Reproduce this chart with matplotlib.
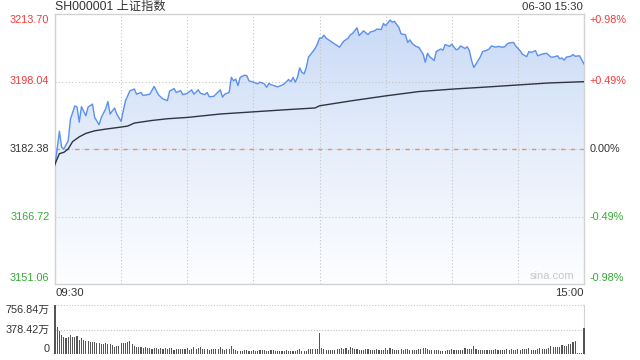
import numpy as np
import matplotlib.pyplot as plt
from matplotlib.colors import LinearSegmentedColormap

plt.rcParams['font.family'] = ['Liberation Sans', 'Noto Sans CJK SC']

# intraday index, minute index from 09:30 (0) to 15:00 (240)
price_min = [0, 2, 3, 4, 6, 7, 9, 10, 11, 12, 14, 15, 17, 18, 20, 21, 23, 24, 25, 27,
             28, 30, 31, 32, 34, 36, 37, 39, 40, 43, 45, 47, 49, 51, 52, 54, 55, 57, 58, 60,
             62, 63, 65, 66, 68, 69, 70, 72, 75, 76, 77, 79, 80, 81, 82, 83, 84, 86, 87, 88,
             90, 92, 93, 95, 96, 97, 98, 101, 103, 104, 106, 107, 108, 109, 110, 111, 112, 113,
             114, 115, 117, 118, 119, 120, 121,
             122, 123, 125, 127, 128, 129, 131, 133, 134, 135, 137, 138, 140, 142, 143, 145,
             146, 148, 149, 150, 152, 153, 154, 156, 157, 159, 160, 161, 162, 164, 165, 167,
             168, 169, 170, 172, 173, 175, 176, 177, 179, 180,
             182, 183, 184, 185, 186, 187, 188, 189, 190, 191, 193, 194, 196, 197, 198, 200,
             201, 203, 204, 205, 206, 208, 209, 211, 212, 214, 215, 216, 218, 219, 221, 223,
             225, 226, 228, 229, 230, 231, 232, 234, 235, 236, 238, 240]
price_val = [3178.51, 3186.5, 3182.8, 3182.38, 3184.3, 3189.3, 3192.4, 3192.1, 3188.6, 3192.2,
             3190.1, 3192.1, 3192.8, 3189.7, 3188.0, 3189.7, 3191.7, 3193.4, 3190.5, 3191.9,
             3190.5, 3188.8, 3191.3, 3193.6, 3195.9, 3196.3, 3195.1, 3195.5, 3194.8, 3195.1,
             3196.9, 3194.9, 3194.0, 3193.6, 3195.8, 3196.4, 3195.5, 3195.9, 3195.0, 3195.3,
             3196.1, 3195.1, 3196.1, 3195.3, 3195.0, 3195.5, 3194.5, 3194.6, 3196.1, 3194.4,
             3195.1, 3195.5, 3199.0, 3198.2, 3198.6, 3197.1, 3199.0, 3199.5, 3199.4, 3198.2,
             3197.9, 3197.5, 3197.9, 3197.5, 3196.7, 3197.6, 3197.3, 3196.8, 3197.2, 3197.5,
             3198.5, 3198.0, 3199.0, 3197.9, 3199.0, 3201.2, 3200.2, 3199.8,
             3201.3, 3203.7, 3205.0, 3205.7, 3206.7, 3208.1, 3208.1,
             3208.8, 3208.1, 3207.4, 3206.7, 3206.4, 3206.0, 3207.4, 3208.1, 3208.9, 3209.2,
             3210.5, 3208.7, 3209.8, 3208.9, 3209.5, 3209.8, 3210.2, 3210.1, 3211.5, 3211.0,
             3212.3, 3211.8, 3212.0, 3210.6, 3209.1, 3208.9, 3207.1, 3207.7, 3206.9, 3206.1,
             3206.0, 3204.4, 3202.5, 3204.6, 3203.8, 3202.9, 3205.0, 3205.6, 3205.3, 3206.6,
             3206.2, 3206.7,
             3205.4, 3205.6, 3206.3, 3206.0, 3205.7, 3206.1, 3205.2, 3202.9, 3201.3, 3202.1,
             3203.8, 3205.0, 3205.3, 3205.6, 3206.3, 3206.0, 3206.2, 3206.0, 3206.1, 3206.7,
             3207.0, 3207.1, 3206.3, 3205.2, 3204.4, 3203.8, 3205.0, 3204.8, 3205.2, 3204.0,
             3204.4, 3204.6, 3203.7, 3203.7, 3204.0, 3203.3, 3203.5, 3203.0, 3203.7, 3203.9,
             3204.3, 3203.9, 3204.0, 3202.1]

avg_min = [0, 2, 4, 6, 8, 11, 14, 18, 23, 29, 33, 36, 44, 51, 60, 75, 90, 105, 118, 120,
           135, 150, 165, 181, 194, 209, 224, 240]
avg_val = [3178.9, 3181.3, 3181.6, 3182.4, 3184.1, 3185.2, 3186.0, 3186.6, 3187.0, 3187.4,
           3187.7, 3188.4, 3189.0, 3189.4, 3189.7, 3190.5, 3191.0, 3191.5, 3191.9, 3192.4,
           3193.6, 3194.7, 3195.7, 3196.3, 3196.7, 3197.2, 3197.7, 3198.0]

# volume in 万, one bar per minute
volume = [756.84, 422, 360, 299, 268, 247, 268, 299, 268, 268,
          283, 216, 247, 216, 206, 201, 190, 185, 185, 175,
          175, 160, 160, 170, 160, 149, 144, 108, 124, 124,
          175, 165, 175, 190, 201, 160, 129, 108, 103, 103,
          88, 108, 93, 88, 77, 93, 93, 82, 93, 82,
          93, 82, 88, 88, 67, 77, 77, 77, 77, 72,
          93, 62, 77, 108, 82, 98, 108, 72, 72, 77,
          67, 77, 77, 82, 77, 108, 72, 67, 72, 72,
          124, 77, 62, 51, 51, 51, 62, 57, 51, 51,
          62, 51, 51, 62, 57, 62, 51, 51, 57, 62,
          51, 46, 51, 41, 46, 57, 51, 51, 51, 51,
          62, 82, 51, 51, 51, 77, 77, 72, 77, 82,
          330,
          88, 72, 67, 62, 62, 62, 62, 72, 82, 93,
          77, 93, 62, 108, 93, 77, 77, 67, 62, 62,
          77, 77, 67, 67, 62, 72, 67, 67, 67, 93,
          62, 88, 77, 67, 62, 67, 77, 67, 72, 82,
          67, 57, 67, 67, 72, 77, 88, 88, 72, 62,
          67, 67, 67, 67, 51, 51, 51, 57, 67, 77,
          62, 57, 62, 62, 62, 93, 72, 72, 77, 129,
          77, 67, 67, 67, 67, 62, 67, 62, 62, 72,
          62, 62, 62, 62, 72, 67, 77, 62, 62, 82,
          62, 77, 77, 77, 88, 67, 67, 62, 77, 88,
          77, 77, 77, 93, 118, 108, 108, 108, 108, 139,
          124, 124, 154, 154, 185, 201, 10, 10, 10, 396]

price_ticks = [3213.70, 3198.04, 3182.38, 3166.72, 3151.06]
pct_labels = ['+0.98%', '+0.49%', '0.00%', '-0.49%', '-0.98%']
prev_close = 3182.38

red = '#f23b3b'
green = '#34a934'
dark = '#333333'
border = '#d2d2d2'

fig = plt.figure(figsize=(6.4, 3.6), dpi=100)
ax = fig.add_axes([55 / 640, 76 / 360, 529 / 640, 270 / 360])
axv = fig.add_axes([55 / 640, 6 / 360, 529 / 640, 49 / 360])

lo, hi = price_ticks[-1], price_ticks[0]
ax.set_xlim(0, 240)
ax.set_ylim(lo, hi)

# gradient fill under the price line
poly = ax.fill_between(price_min, price_val, lo, color='none', lw=0)
cmap = LinearSegmentedColormap.from_list('fill', ['#fdfeff', '#e6eefb', '#c8d9f6'])
grad = np.linspace(0, 1, 256).reshape(-1, 1)
im = ax.imshow(grad, extent=[0, 240, lo, hi], origin='lower', aspect='auto',
               cmap=cmap, zorder=1)
im.set_clip_path(poly.get_paths()[0], transform=ax.transData)

for m in [30, 60, 90, 120, 150, 180, 210]:
    ax.axvline(m, color='#c4c4c4', lw=0.8, ls=(0, (1, 2)), zorder=2)
for v in [price_ticks[1], price_ticks[3]]:
    ax.axhline(v, color='#c4c4c4', lw=0.8, ls=(0, (1, 2)), zorder=2)
ax.axhline(prev_close, color='#c4c4c4', lw=0.8, ls=(0, (1, 2)), zorder=2)
ax.axhline(prev_close, color='#e8906a', lw=1.0, ls=(0, (3, 4)), zorder=2)

ax.plot(price_min, price_val, color='#5b90ee', lw=1.0, zorder=4)
ax.plot(avg_min, avg_val, color='#2f3540', lw=1.0, zorder=4)

ax.set_xticks([])
ax.set_yticks([])
for s in ax.spines.values():
    s.set_color(border)
    s.set_linewidth(1)

# left / right labels
left_colors = [red, red, dark, green, green]
right_colors = [red, red, dark, green, green]
for i, (v, p) in enumerate(zip(price_ticks, pct_labels)):
    va = 'top' if i == 0 else ('bottom' if i == 4 else 'center')
    off = -1 if i == 0 else (1 if i == 4 else 0)
    ax.annotate(f'{v:.2f}', xy=(0, v), xycoords=('axes fraction', 'data'),
                xytext=(-4, off), textcoords='offset points', ha='right', va=va,
                fontsize=7.8, color=left_colors[i])
    ax.annotate(p, xy=(1, v), xycoords=('axes fraction', 'data'),
                xytext=(4, off), textcoords='offset points', ha='left', va=va,
                fontsize=7.8, color=right_colors[i])

fig.text(55 / 640, 1 - 7 / 360, 'SH000001 上证指数', ha='left', va='center',
         fontsize=8.8, color=dark)
fig.text(583 / 640, 1 - 7 / 360, '06-30 15:30', ha='right', va='center',
         fontsize=8.2, color=dark)
fig.text(55 / 640, 1 - 293 / 360, '09:30', ha='left', va='center', fontsize=8.2, color=dark)
fig.text(584 / 640, 1 - 293 / 360, '15:00', ha='right', va='center', fontsize=8.2, color=dark)
ax.text(0.982, 0.012, 'sina.com', transform=ax.transAxes, ha='right', va='bottom',
        fontsize=8, color='#c8c8c8')

# volume panel
vmax = volume[0]
axv.set_xlim(0, 240)
axv.set_ylim(0, vmax)
axv.bar(range(len(volume)), volume, width=0.5, color='#555555', clip_on=False, zorder=3)
for v in [vmax, vmax / 2]:
    axv.axhline(v, color='#c4c4c4', lw=0.8, ls=(0, (1, 1.5)), zorder=1)
axv.set_xticks([])
axv.set_yticks([])
for k in ['top', 'bottom', 'left']:
    axv.spines[k].set_visible(False)
axv.spines['right'].set_color(border)

vol_labels = [(vmax, '756.84万', 'top'), (vmax / 2, '378.42万', 'center'), (0, '0', 'bottom')]
for v, t, va in vol_labels:
    axv.annotate(t, xy=(0, v), xycoords=('axes fraction', 'data'),
                 xytext=(-4, 0), textcoords='offset points', ha='right', va=va,
                 fontsize=7.8, color=dark)

fig.savefig('out.png', dpi=100)
